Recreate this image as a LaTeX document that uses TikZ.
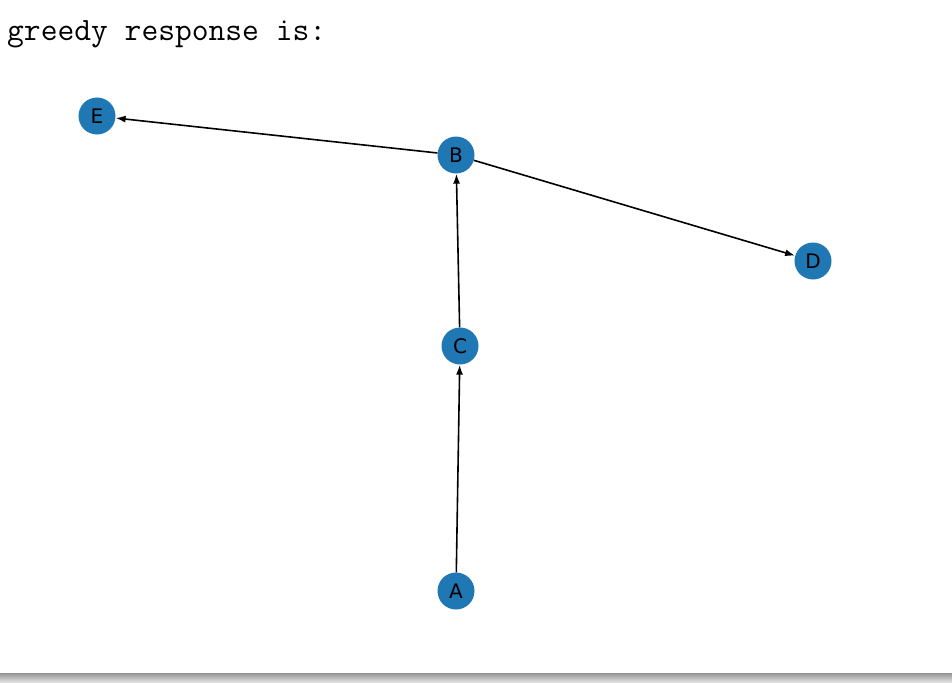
\documentclass[tikz,border=0pt]{standalone}
\usepackage{fontspec}
\setmainfont{DejaVu Sans}
\usetikzlibrary{arrows.meta}
\definecolor{nodeblue}{HTML}{1F77B4}
\begin{document}
\begin{tikzpicture}[x=1pt,y=-1pt,
  nd/.style={circle,fill=nodeblue,minimum size=37pt,inner sep=0pt,text=black,font=\fontsize{20}{20}\selectfont},
  edge/.style={draw=black,line width=1.6pt,-{Latex[length=10pt,width=7pt]}}]
\useasboundingbox (0,0) rectangle (952,682);
\fill[white] (0,0) rectangle (952,682);
\shade[top color=black!42, bottom color=black!12] (0,673) rectangle (952,682);
\node[anchor=base west,inner sep=0pt,font=\ttfamily\fontsize{32.6}{32.6}\selectfont] (title) at (7,41) {greedy response is:};
\node[nd] (E) at (97,116) {E};
\node[nd] (B) at (456,155) {B};
\node[nd] (D) at (813,261) {D};
\node[nd] (C) at (460,346) {C};
\node[nd] (A) at (456,591) {A};
\draw[edge] (B) -- (E);
\draw[edge] (B) -- (D);
\draw[edge] (C) -- (B);
\draw[edge] (A) -- (C);
\end{tikzpicture}
\end{document}
